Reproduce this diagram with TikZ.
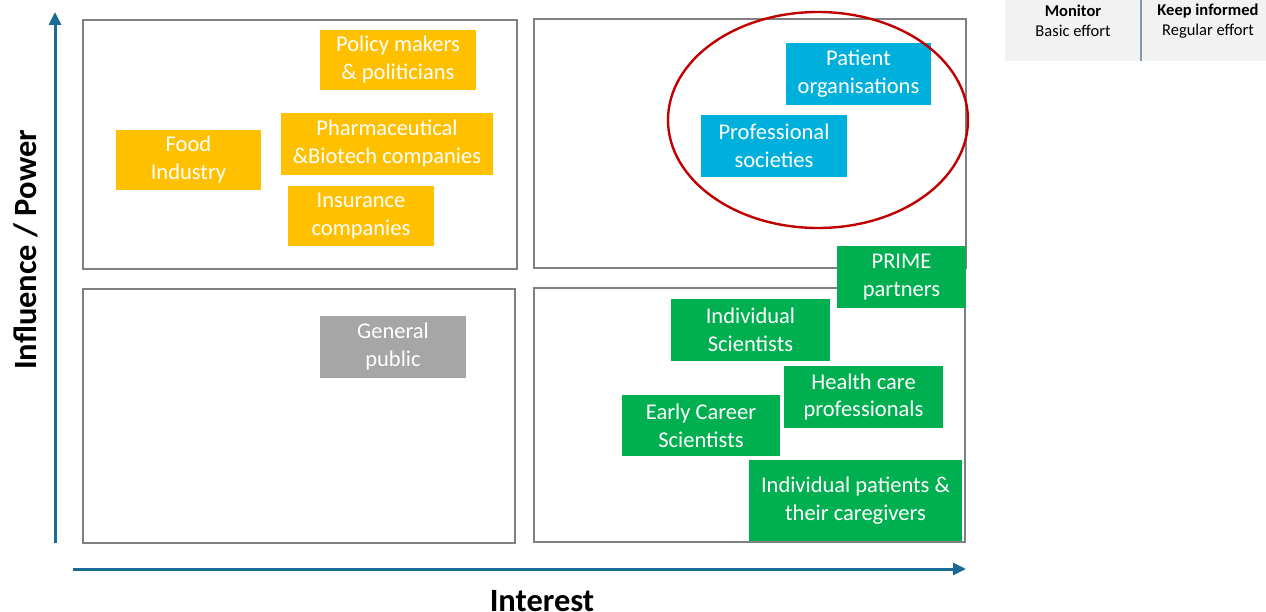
\documentclass[tikz,border=0pt]{standalone}
\usepackage{fontspec}
\setmainfont{Carlito}
\usetikzlibrary{arrows.meta}
\definecolor{quadgray}{HTML}{808080}
\definecolor{axisblue}{HTML}{1A6A94}
\definecolor{orangebox}{HTML}{FFC000}
\definecolor{bluebox}{HTML}{00B0DC}
\definecolor{greenbox}{HTML}{00B050}
\definecolor{graybox}{HTML}{A6A6A6}
\definecolor{ringred}{HTML}{C00000}
\definecolor{legendbg}{HTML}{F2F2F2}
\definecolor{legendline}{HTML}{8497B0}
\begin{document}
\begin{tikzpicture}[x=1pt,y=-1pt,
  quad/.style={draw=quadgray,line width=2.6pt},
  tag/.style={rectangle,inner sep=0pt,text=white,align=center,
    font=\fontsize{22.5}{28}\selectfont},
  axis/.style={draw=axisblue,line width=3pt,-{Triangle[length=13pt,width=12pt]}},
  axislabel/.style={font=\fontsize{32.5}{34}\selectfont\bfseries,inner sep=0pt},
  legendtext/.style={align=center,font=\fontsize{16.5}{20}\selectfont}]
\useasboundingbox (0,0) rectangle (1266,612);

% quadrant frames
\draw[quad] (83,20) rectangle (517,269);
\draw[quad] (534,19) rectangle (966,268);
\draw[quad] (83,289) rectangle (515,543);
\draw[quad] (534,288) rectangle (965,542);

% axes
\coordinate (ybot) at (55,543);
\coordinate (ytop) at (55,12);
\coordinate (xleft) at (73,569);
\coordinate (xright) at (966,569);
\draw[axis] (ybot) -- (ytop);
\draw[axis] (xleft) -- (xright);
\node[axislabel,rotate=90,anchor=base] (ylab) at (36,250) {Influence / Power};
\node[axislabel,anchor=base] (xlab) at (542,611) {Interest};

% stakeholder groups
\node[tag,fill=orangebox,minimum width=156pt,minimum height=60pt] (policy) at (398,60) {Policy makers\\\& politicians};
\node[tag,fill=orangebox,minimum width=145pt,minimum height=60pt] (food) at (188.5,160) {Food\\Industry};
\node[tag,fill=orangebox,minimum width=212pt,minimum height=62pt] (pharma) at (387,144) {Pharmaceutical\\\&Biotech companies};
\node[tag,fill=orangebox,minimum width=146pt,minimum height=60pt] (insur) at (361,216) {Insurance\\companies};
\node[tag,fill=graybox,minimum width=146pt,minimum height=62pt] (public) at (393,347) {General\\public};
\node[tag,fill=bluebox,minimum width=145pt,minimum height=62pt] (patorg) at (858.5,74) {Patient\\organisations};
\node[tag,fill=bluebox,minimum width=146pt,minimum height=62pt] (profsoc) at (774,146) {Professional\\societies};
\node[tag,fill=greenbox,minimum width=129pt,minimum height=62pt] (prime) at (901.5,277) {PRIME\\partners};
\node[tag,fill=greenbox,minimum width=159pt,minimum height=62pt] (indsci) at (750.5,330) {Individual\\Scientists};
\node[tag,fill=greenbox,minimum width=159pt,minimum height=62pt] (hcp) at (863.5,397) {Health care\\professionals};
\node[tag,fill=greenbox,minimum width=158pt,minimum height=61pt] (ecs) at (701,425.5) {Early Career\\Scientists};
\node[tag,fill=greenbox,minimum width=213pt,minimum height=81pt] (indpat) at (855.5,500.5) {Individual patients \&\\their caregivers};

% highlight ring
\draw[ringred,line width=2.4pt] (818,120) ellipse [x radius=150pt,y radius=108pt];

% legend
\fill[legendbg] (1005,0) rectangle (1266,61);
\draw[legendline,line width=1.5pt] (1141,0) -- (1141,61);
\node[legendtext] (mon) at (1073,21) {\textbf{Monitor}\\Basic effort};
\node[legendtext] (keep) at (1208,21) {\textbf{Keep informed}\\Regular effort};
\end{tikzpicture}
\end{document}
